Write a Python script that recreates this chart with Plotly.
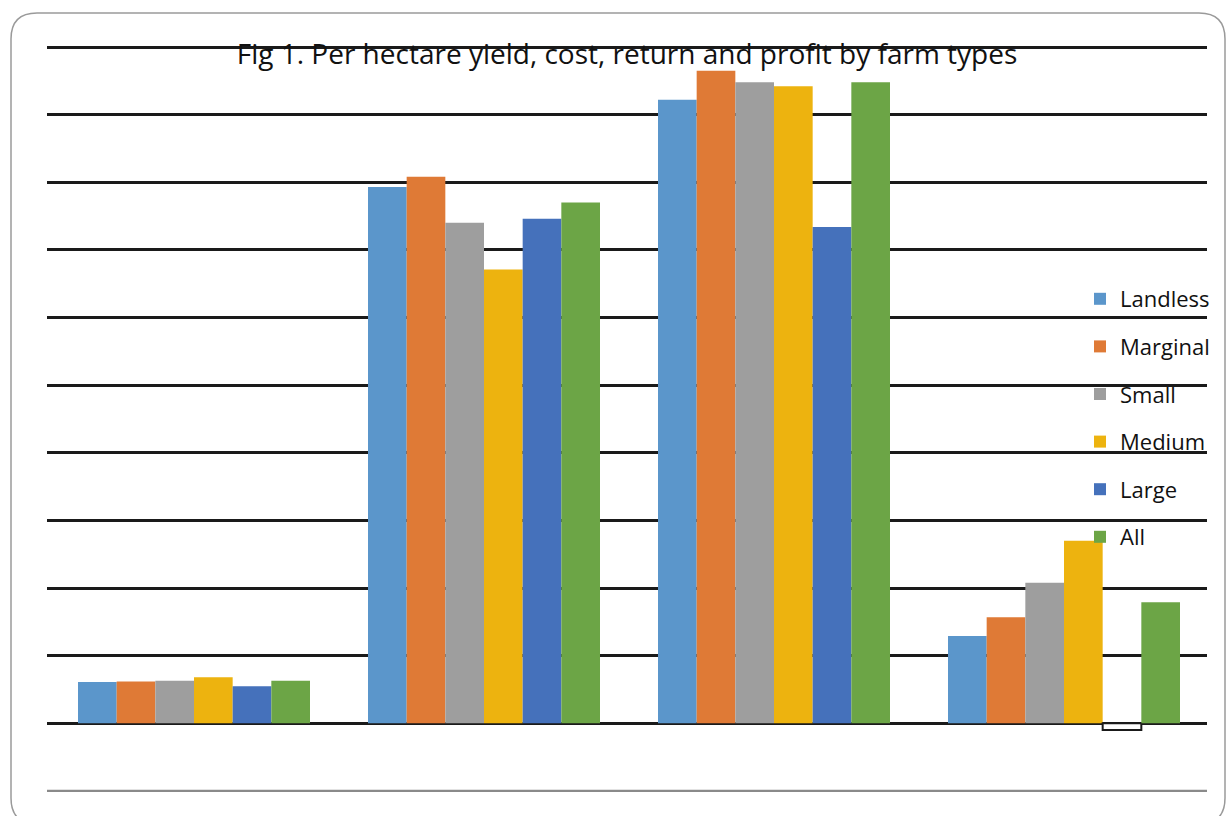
import plotly.graph_objects as go

# ---- data (units = gridline steps) ----
categories = ["Yield", "Cost", "Return", "Profit"]
landless = [0.61, 7.93, 9.22, 1.29]
marginal = [0.62, 8.08, 9.65, 1.57]
small = [0.63, 7.40, 9.48, 2.08]
medium = [0.68, 6.71, 9.42, 2.70]
large = [0.55, 7.46, 7.34, -0.10]
all_farms = [0.63, 7.70, 9.48, 1.79]

series_names = ["Landless", "Marginal", "Small", "Medium", "Large", "All"]
tick_values = list(range(0, 11))

# ---- layout constants ----
W, H = 1227, 816
ML, MR, MT, MB = 47, 20, 46, 24
FONT = "Open Sans"

colors = {
    "Landless": "#5B96CB",
    "Marginal": "#DF7A36",
    "Small": "#9E9E9E",
    "Medium": "#EDB30F",
    "Large": "#4571BB",
    "All": "#6CA546",
}

series = [landless, marginal, small, medium, large, all_farms]

fig = go.Figure()
for name, vals in zip(series_names, series):
    c = colors[name]
    fill = [c if v >= 0 else "white" for v in vals]
    lc = [c if v >= 0 else "#1a1a1a" for v in vals]
    lw = [0 if v >= 0 else 2 for v in vals]
    fig.add_trace(go.Bar(
        x=categories, y=vals, name=name,
        marker=dict(color=fill, line=dict(color=lc, width=lw)),
        legendgroup=name,
    ))

pw = W - ML - MR
ph = H - MT - MB


def px_x(p):
    return (p - ML) / pw


def px_y(p):
    return (H - MB - p) / ph


# rounded frame
L, T, R, B, r = 11, 13, 1225, 824, 26
path = (
    f"M {px_x(L)},{px_y(T + r)} "
    f"Q {px_x(L)},{px_y(T)} {px_x(L + r)},{px_y(T)} "
    f"L {px_x(R - r)},{px_y(T)} "
    f"Q {px_x(R)},{px_y(T)} {px_x(R)},{px_y(T + r)} "
    f"L {px_x(R)},{px_y(B - r)} "
    f"Q {px_x(R)},{px_y(B)} {px_x(R - r)},{px_y(B)} "
    f"L {px_x(L + r)},{px_y(B)} "
    f"Q {px_x(L)},{px_y(B)} {px_x(L)},{px_y(B - r)} Z"
)

xshift = 2 / 290  # small offset of the bar groups to the right

fig.update_layout(
    width=W, height=H,
    margin=dict(l=ML, r=MR, t=MT, b=MB, pad=0),
    paper_bgcolor="white", plot_bgcolor="white",
    barmode="group", bargap=0.2, bargroupgap=0,
    font=dict(family=FONT, color="#111111"),
    title=dict(
        text="Fig 1. Per hectare yield, cost, return and profit by farm types",
        x=0.5, xref="paper", xanchor="center",
        y=1 - 54 / H, yref="container", yanchor="middle",
        font=dict(family=FONT, size=28, color="#111111"),
    ),
    showlegend=True,
    legend=dict(
        x=px_x(1080), y=px_y(278), xanchor="left", yanchor="top",
        bgcolor="rgba(0,0,0,0)", font=dict(family=FONT, size=22, color="#111111"),
        traceorder="grouped", tracegroupgap=16,
    ),
    xaxis=dict(range=[-0.5 - xshift, 3.5 - xshift],
               showticklabels=False, showgrid=False, zeroline=False,
               showline=False, ticks=""),
    yaxis=dict(range=[-1.015, 10.015], tickvals=tick_values,
               showticklabels=False, showgrid=True, gridcolor="#1a1a1a",
               gridwidth=3, zeroline=False, showline=False, ticks=""),
    shapes=[
        dict(type="line", xref="paper", yref="y", x0=0, x1=1, y0=-1, y1=-1,
             line=dict(color="#8a8a8a", width=2.5), layer="below"),
        dict(type="path", xref="paper", yref="paper", path=path,
             line=dict(color="#9a9a9a", width=1.5), fillcolor="rgba(0,0,0,0)",
             layer="above"),
    ],
)

fig.write_html("out.html")
